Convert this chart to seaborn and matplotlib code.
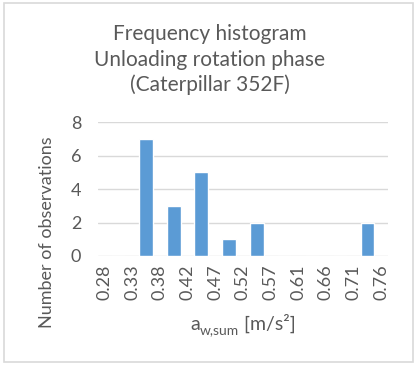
import numpy as np
import pandas as pd
import matplotlib
matplotlib.use("Agg")
import matplotlib.pyplot as plt
import seaborn as sns
from matplotlib.patches import Rectangle
from matplotlib.transforms import offset_copy

# Data
bin_edges = ["0.28", "0.33", "0.38", "0.42", "0.47", "0.52", "0.57", "0.61", "0.66", "0.71", "0.76"]
counts = [0, 7, 3, 5, 1, 2, 0, 0, 0, 2]
title_lines = ["Frequency histogram", "Unloading rotation phase", "(Caterpillar 352F)"]
y_ticks = [0, 2, 4, 6, 8]

sns.set_theme(style="white")
plt.rcParams['font.family'] = ['Lato', 'DejaVu Sans']

TXT = "#595959"
W, H = 419, 366
fig = plt.figure(figsize=(W / 100, H / 100), dpi=100)
fig.patch.set_facecolor("white")

ax = fig.add_axes([98 / W, 1 - 256 / H, (388 - 98) / W, (256 - 122.3) / H])

df = pd.DataFrame({"bin": [str(i) for i in range(len(counts))], "count": counts})
sns.barplot(data=df, x="bin", y="count", color="#5B9BD5", width=0.5,
            saturation=1, ax=ax, zorder=3)

ax.set_xlim(-0.73, len(counts) - 0.26)
ax.set_ylim(0, 8)
ax.set_yticks(y_ticks)
ax.set_yticklabels([str(v) for v in y_ticks])
ax.set_xticks(np.arange(len(bin_edges)) - 0.5)
ax.set_xticklabels(bin_edges, rotation=90)
ax.tick_params(axis="both", length=0, colors=TXT, labelsize=13)
ax.tick_params(axis="x", pad=6)
ax.tick_params(axis="y", pad=12)
ax.grid(axis="y", color="#D9D9D9", linewidth=1, zorder=0)
ax.set_axisbelow(True)
for s in ax.spines.values():
    s.set_visible(False)
ax.set_xlabel("")
ax.set_ylabel("")

for i, line in enumerate(title_lines):
    fig.text(0.5, 1 - (34 + 25.5 * i) / H, line, ha="center", va="center",
             fontsize=15, color=TXT)

fig.text(47 / W, 1 - 232 / H, "Number of observations", rotation=90,
         ha="center", va="center", fontsize=13, color=TXT)

# x label: a_{w,sum} [m/s²] built from pieces
renderer = fig.canvas.get_renderer()
parts = [("a", 14, 0), ("w,sum", 10, -4), (" [m/s²]", 14, 0)]
widths = []
for txt, fs, dy in parts:
    t = fig.text(0, 0, txt, fontsize=fs)
    widths.append(t.get_window_extent(renderer).width)
    t.remove()
total = sum(widths)
x0 = 243 - total / 2
ybase = H - 330
for (txt, fs, dy), w in zip(parts, widths):
    fig.text(x0 / W, (ybase + dy) / H, txt, fontsize=fs, color=TXT,
             ha="left", va="baseline")
    x0 += w

fig.add_artist(Rectangle((4 / W, 1 - 362 / H), (413 - 4) / W, (362 - 3) / H,
                         transform=fig.transFigure, fill=False,
                         edgecolor="#D9D9D9", linewidth=1.2))

fig.savefig("out.png", dpi=100)
